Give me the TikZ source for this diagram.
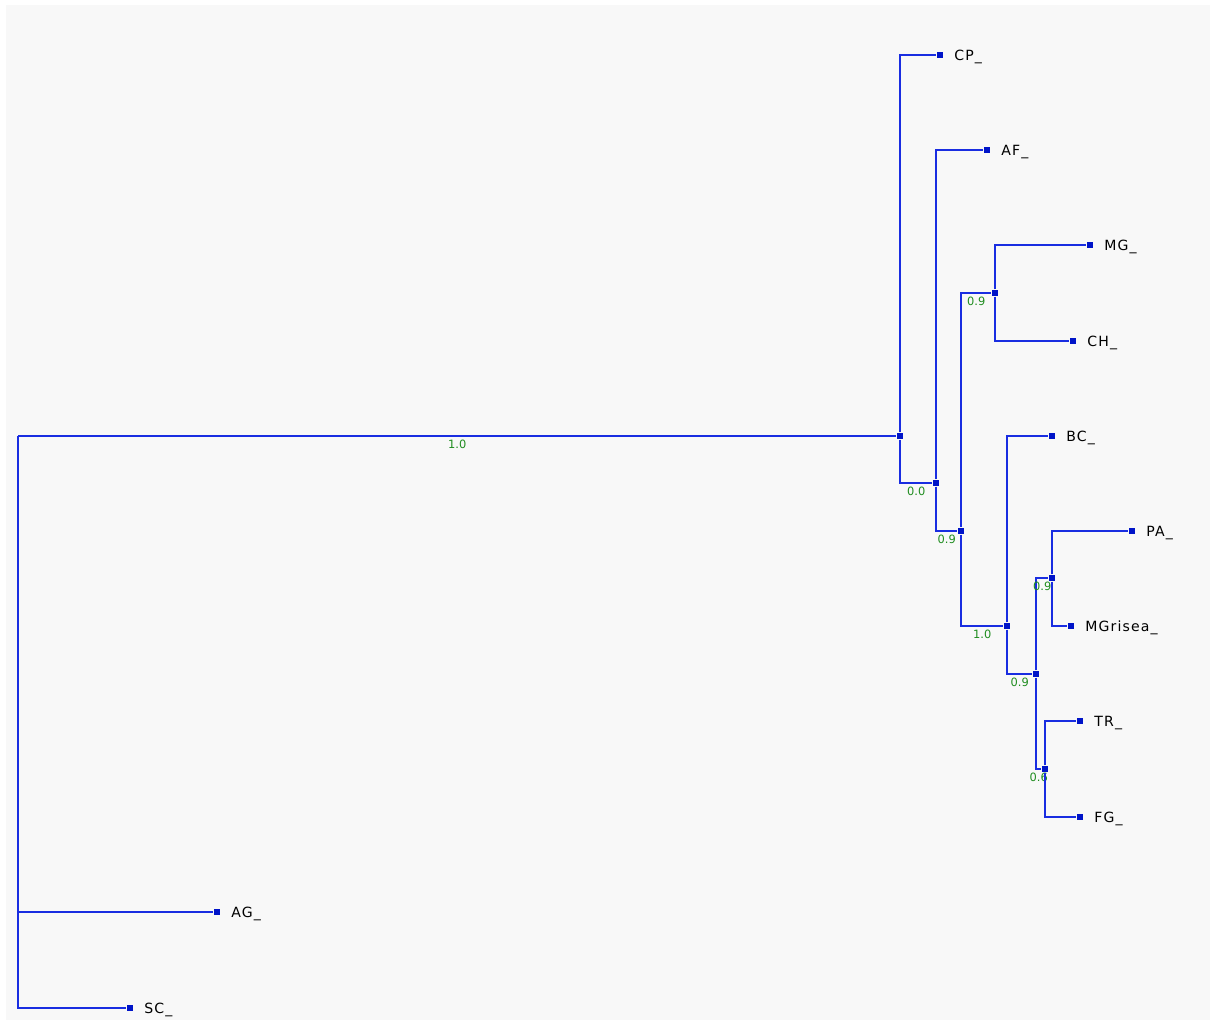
\documentclass[tikz,border=0pt]{standalone}
\usepackage{fontspec}
\setmainfont{DejaVu Sans}
\newfontfamily\leaffont[LetterSpace=8]{DejaVu Sans}
\usepackage{tikz}
\usetikzlibrary{positioning}
\definecolor{treeblue}{RGB}{25,45,225}
\definecolor{nodeblue}{RGB}{0,20,200}
\definecolor{suppgreen}{RGB}{30,140,30}
\definecolor{panelgray}{RGB}{248,248,248}

\begin{document}
\begin{tikzpicture}[x=0.02cm,y=-0.02cm,
      inode/.style={rectangle,fill=nodeblue,inner sep=0pt,minimum size=0.13cm},
      leaf/.style={inode,label={[leaflabel]right:#1}},
      leaflabel/.style={font=\leaffont\fontsize{8}{9}\selectfont,text=black,inner sep=0pt,xshift=0.21cm,yshift=-0.04cm},
      branch/.style={treeblue,line width=0.85pt},
      supp/.style={font=\fontsize{6.5}{7}\selectfont,text=suppgreen,below,inner sep=2pt}]
      % Panel
      \fill[white] (0,0) rectangle (1213,1023);
      \fill[panelgray] (6,5) rectangle (1210,1020);
      \useasboundingbox (0,0) rectangle (1213,1023);

      % Internal nodes
      \coordinate (root) at (18,436);
      \node[inode] (n1) at (900,436) {};
      \node[inode] (n2) at (936,483) {};
      \node[inode] (n3) at (961,531) {};
      \node[inode] (n4) at (995,293) {};
      \node[inode] (n5) at (1007,626) {};
      \node[inode] (n6) at (1036,674) {};
      \node[inode] (n7) at (1052,578) {};
      \node[inode] (n8) at (1045,769) {};

      % Leaves
      \node[leaf=CP\_]      (cp)  at (940,55)   {};
      \node[leaf=AF\_]      (af)  at (987,150)  {};
      \node[leaf=MG\_]      (mg)  at (1090,245) {};
      \node[leaf=CH\_]      (ch)  at (1073,341) {};
      \node[leaf=BC\_]      (bc)  at (1052,436) {};
      \node[leaf=PA\_]      (pa)  at (1132,531) {};
      \node[leaf=MGrisea\_] (mgr) at (1071,626) {};
      \node[leaf=TR\_]      (tr)  at (1080,721) {};
      \node[leaf=FG\_]      (fg)  at (1080,817) {};
      \node[leaf=AG\_]      (ag)  at (217,912)  {};
      \node[leaf=SC\_]      (sc)  at (130,1008) {};

      % Branches
      \draw[branch] (root) |- node[supp,pos=0.75] {1.0} (n1);
      \draw[branch] (root) |- (ag);
      \draw[branch] (root) |- (sc);
      \draw[branch] (n1) |- (cp);
      \draw[branch] (n1) |- node[supp,pos=0.75] {0.0} (n2);
      \draw[branch] (n2) |- (af);
      \draw[branch] (n2) |- node[supp,pos=0.75] {0.9} (n3);
      \draw[branch] (n3) |- node[supp,pos=0.75] {0.9} (n4);
      \draw[branch] (n3) |- node[supp,pos=0.75] {1.0} (n5);
      \draw[branch] (n4) |- (mg);
      \draw[branch] (n4) |- (ch);
      \draw[branch] (n5) |- (bc);
      \draw[branch] (n5) |- node[supp,pos=0.75] {0.9} (n6);
      \draw[branch] (n6) |- node[supp,pos=0.75] {0.9} (n7);
      \draw[branch] (n6) |- node[supp,pos=0.75] {0.6} (n8);
      \draw[branch] (n7) |- (pa);
      \draw[branch] (n7) |- (mgr);
      \draw[branch] (n8) |- (tr);
      \draw[branch] (n8) |- (fg);
    \end{tikzpicture}
\end{document}
